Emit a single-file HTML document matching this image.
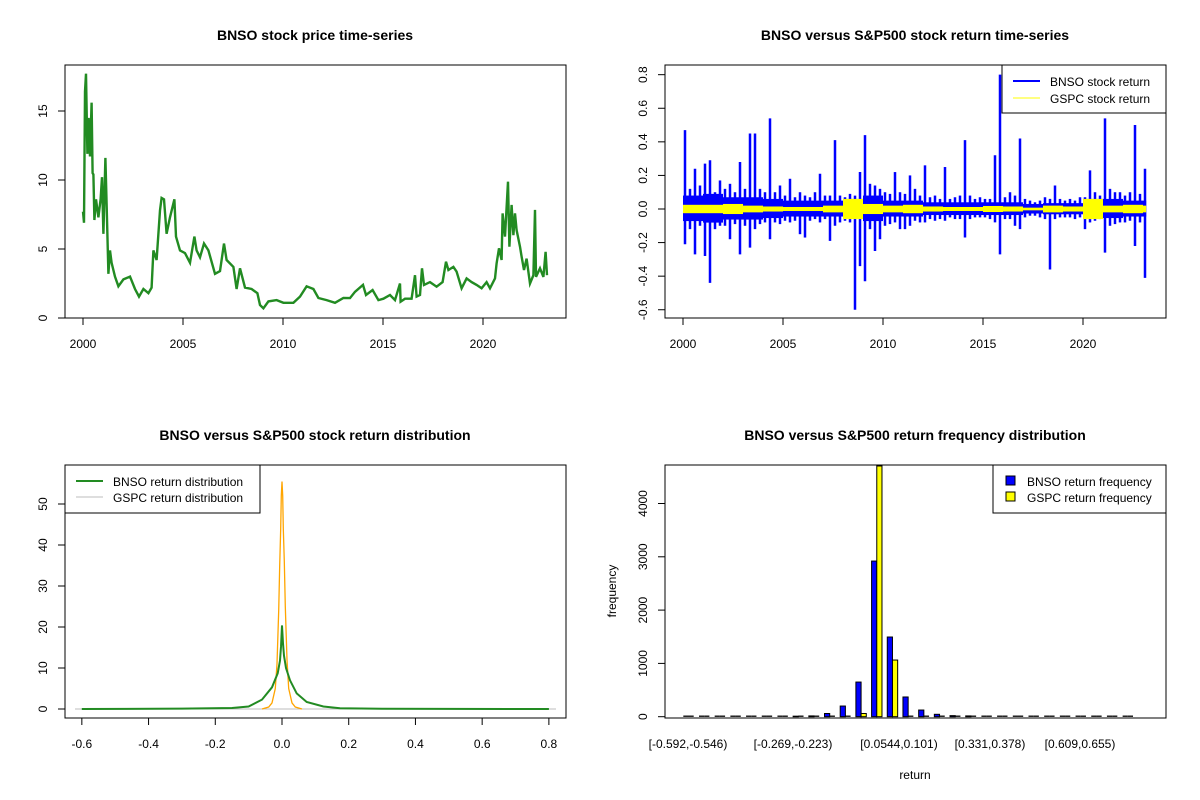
<!DOCTYPE html>
<html><head><meta charset="utf-8">
<style>
body{margin:0;background:#fff;}
svg{display:block;font-family:"Liberation Sans",Arial,sans-serif;}
text{font-size:12px;fill:#000;}
.t{font-size:14px;font-weight:bold;}
</style></head>
<body>
<svg id="s" width="1200" height="800" viewBox="0 0 1200 800" xmlns="http://www.w3.org/2000/svg"></svg>
<script>
// ---------- data ----------
const priceYears=[0,0.05,0.1,0.15,0.22,0.28,0.35,0.43,0.48,0.52,0.57,0.65,0.77,0.88,0.95,1.02,1.12,1.18,1.27,1.35,1.43,1.6,1.77,2.02,2.35,2.6,2.8,3.02,3.27,3.43,3.52,3.68,3.85,3.93,4.05,4.18,4.35,4.57,4.65,4.85,5.1,5.35,5.57,5.68,5.85,6.05,6.27,6.6,6.85,7.05,7.18,7.52,7.68,7.85,8.1,8.43,8.72,8.85,9.02,9.27,9.68,10.02,10.52,10.85,11.18,11.52,11.77,12.18,12.6,13.02,13.35,13.6,14.0,14.15,14.48,14.77,15.02,15.35,15.6,15.85,15.88,16.1,16.43,16.6,16.68,16.85,16.95,17.05,17.35,17.68,17.98,18.15,18.27,18.52,18.68,18.93,19.18,19.43,19.68,19.93,20.18,20.35,20.6,20.68,20.8,20.93,20.98,21.1,21.25,21.32,21.43,21.52,21.6,21.68,21.85,21.93,22.05,22.18,22.35,22.52,22.6,22.65,22.85,23.02,23.13,23.2];
const priceVals=[7.7,6.9,16.4,17.7,11.9,14.5,11.7,15.6,10.5,10.4,7.1,8.6,7.3,8.6,10.2,6.1,11.6,8.3,3.2,4.9,4.0,3.0,2.3,2.8,3.0,2.1,1.55,2.1,1.8,2.2,4.9,4.2,7.8,8.7,8.6,6.1,7.3,8.6,5.9,4.9,4.7,4.0,5.9,4.9,4.4,5.4,4.9,3.2,3.4,5.4,4.2,3.7,2.1,3.6,2.2,2.1,1.8,0.94,0.7,1.2,1.3,1.1,1.1,1.55,2.3,2.1,1.45,1.3,1.1,1.45,1.44,1.9,2.4,1.67,2.03,1.3,1.4,1.67,1.3,2.5,1.18,1.4,1.4,3.1,1.55,1.67,3.6,2.4,2.6,2.27,2.6,4.08,3.48,3.7,3.36,2.15,2.87,2.6,2.4,2.15,2.6,2.15,2.87,3.96,5.05,4.2,7.58,5.9,9.88,5.17,8.19,6.0,7.58,6.37,5.17,4.45,3.48,4.3,2.5,3.1,7.83,2.98,3.6,2.98,4.8,3.1];
const retHigh=[0.47,0.12,0.24,0.14,0.27,0.29,0.10,0.17,0.12,0.15,0.10,0.28,0.12,0.45,0.45,0.12,0.10,0.54,0.10,0.14,0.08,0.18,0.07,0.10,0.08,0.07,0.10,0.21,0.08,0.08,0.41,0.08,0.07,0.09,0.08,0.22,0.44,0.15,0.14,0.12,0.10,0.09,0.22,0.10,0.09,0.20,0.12,0.08,0.26,0.07,0.08,0.06,0.25,0.06,0.07,0.08,0.41,0.08,0.06,0.07,0.06,0.06,0.32,0.80,0.07,0.10,0.08,0.42,0.06,0.05,0.04,0.05,0.07,0.06,0.14,0.06,0.05,0.06,0.05,0.07,0.07,0.23,0.10,0.08,0.54,0.12,0.10,0.10,0.08,0.10,0.50,0.09,0.24];
const retLow=[-0.21,-0.12,-0.27,-0.10,-0.28,-0.44,-0.12,-0.10,-0.10,-0.18,-0.09,-0.27,-0.10,-0.23,-0.12,-0.09,-0.08,-0.18,-0.08,-0.09,-0.07,-0.08,-0.07,-0.15,-0.17,-0.07,-0.06,-0.08,-0.06,-0.19,-0.10,-0.08,-0.07,-0.08,-0.60,-0.34,-0.43,-0.12,-0.25,-0.18,-0.10,-0.09,-0.08,-0.12,-0.12,-0.10,-0.07,-0.08,-0.08,-0.06,-0.07,-0.06,-0.07,-0.05,-0.06,-0.06,-0.17,-0.06,-0.05,-0.05,-0.05,-0.06,-0.08,-0.27,-0.06,-0.06,-0.10,-0.12,-0.05,-0.04,-0.04,-0.05,-0.06,-0.36,-0.06,-0.05,-0.05,-0.05,-0.06,-0.05,-0.12,-0.08,-0.07,-0.06,-0.26,-0.10,-0.09,-0.08,-0.08,-0.07,-0.22,-0.08,-0.41];
const bandAmp=[0.08,0.09,0.07,0.07,0.06,0.05,0.05,0.05,0.06,0.08,0.05,0.05,0.04,0.04,0.04,0.04,0.04,0.03,0.035,0.035,0.06,0.06,0.05,0.05];
const gspcAmp=[0.025,0.025,0.03,0.02,0.015,0.012,0.012,0.02,0.06,0.03,0.02,0.025,0.015,0.012,0.012,0.018,0.015,0.008,0.02,0.015,0.06,0.02,0.025,0.02];
const gspcDensX=[-0.06,-0.04,-0.03,-0.02,-0.015,-0.01,-0.007,-0.004,-0.002,0,0.002,0.004,0.007,0.01,0.015,0.02,0.03,0.04,0.06];
const gspcDensY=[0,0.5,1.5,5,11,24,35,44,52,55.5,52,44,36,25,12,5,1.5,0.5,0];
const bnsoDensX=[-0.6,-0.3,-0.15,-0.1,-0.06,-0.03,-0.013,-0.006,-0.003,0,0.003,0.006,0.012,0.024,0.044,0.074,0.124,0.174,0.3,0.8];
const bnsoDensY=[0,0.1,0.25,0.6,2.3,5.3,8.7,11.8,15.2,20.4,16,13,10,7,3.8,1.7,0.6,0.2,0.05,0];
const bnsoFreq=[0,0,0,0,0,0,0,10,15,60,200,650,2920,1495,370,125,45,20,15,2,1,0,0,0,0,0,0,0,0];
const gspcFreq=[0,0,0,0,0,0,0,0,0,5,8,60,5400,1063,6,2,0,0,0,0,0,0,0,0,0,0,0,0,0];
const binLabels=["[-0.592,-0.546)","[-0.269,-0.223)","[0.0544,0.101)","[0.331,0.378)","[0.609,0.655)"];
const binLabelX=[688,793,899,990,1080];

// ---------- helpers ----------
const S=document.getElementById('s');const NS='http://www.w3.org/2000/svg';
function el(tag,a,txt){const e=document.createElementNS(NS,tag);for(const k in a)e.setAttribute(k,a[k]);if(txt!==undefined)e.textContent=txt;S.appendChild(e);return e;}
function frame(x0,y0,x1,y1,name){const r=el('rect',{x:x0,y:y0,width:x1-x0,height:y1-y0,fill:'none',stroke:'#000','stroke-width':1});

}
function xtick(x,yb,lab,name){const l=el('line',{x1:x,x2:x,y1:yb,y2:yb+7,stroke:'#000'});


const t=el('text',{x:x,y:yb+30,'text-anchor':'middle'},lab);

}
function ytick(y,xl,lab,name){const l=el('line',{x1:xl-7,x2:xl,y1:y,y2:y,stroke:'#000'});


const t=el('text',{x:xl-18,y:y,'text-anchor':'middle',transform:`rotate(-90 ${xl-18} ${y})`},lab);

}
function title(x,y,s,name){const t=el('text',{x:x,y:y,'text-anchor':'middle',class:'t'},s);

}

// ---------- panel 1: price ----------
const px1=y=>83+20*y, py1=v=>318-13.8*v;
title(315,40,'BNSO stock price time-series','price-chart-title');
let d=priceYears.map((y,i)=>(i?'L':'M')+px1(y).toFixed(1)+' '+py1(priceVals[i]).toFixed(1)).join(' ');
let p=el('path',{d:d,fill:'none',stroke:'#228B22','stroke-width':2.4,'stroke-linejoin':'miter'});


frame(65,65,566,318,'price-plot-frame');
[2000,2005,2010,2015,2020].forEach(y=>xtick(px1(y-2000),318,String(y),'price-x'));
[0,5,10,15].forEach(v=>ytick(py1(v),65,String(v),'price-y'));

// ---------- panel 2: returns ----------
const px2=y=>683+20*y, py2=v=>209-167.9*v;
title(915,40,'BNSO versus S&P500 stock return time-series','return-chart-title');
bandAmp.forEach((a,i)=>{const w=(i===23)?3.2:20;const r=el('rect',{x:px2(i),y:py2(a),width:w,height:py2(-a*0.9)-py2(a),fill:'#0000FF'});

});
retHigh.forEach((h,i)=>{const x=px2(i*0.25)+2;const l=el('line',{x1:x,x2:x,y1:py2(h),y2:py2(retLow[i]),stroke:'#0000FF','stroke-width':2.5});

});
gspcAmp.forEach((a,i)=>{const w=(i===23)?3.2:20;const r=el('rect',{x:px2(i),y:py2(a),width:w,height:py2(-a)-py2(a),fill:'#FFFF00'});

});
frame(665,65,1166,318,'return-plot-frame');
[2000,2005,2010,2015,2020].forEach(y=>xtick(px2(y-2000),318,String(y),'return-x'));
[-0.6,-0.4,-0.2,0,0.2,0.4,0.6,0.8].forEach(v=>ytick(py2(v),665,v.toFixed(1),'return-y'));
el('rect',{x:1002,y:65,width:164,height:48,fill:'#fff',stroke:'#000'});
el('line',{x1:1013,x2:1040,y1:81,y2:81,stroke:'#0000FF','stroke-width':2});
el('text',{x:1050,y:86},'BNSO stock return');
el('line',{x1:1013,x2:1040,y1:98,y2:98,stroke:'#FFFF00','stroke-width':1});
el('text',{x:1050,y:103},'GSPC stock return');

// ---------- panel 3: density ----------
const px3=x=>282+333.6*x, py3=v=>709-4.1*v;
title(315,440,'BNSO versus S&P500 stock return distribution','density-chart-title');
el('line',{x1:75,x2:556,y1:py3(0),y2:py3(0),stroke:'#bebebe'});
d=gspcDensX.map((x,i)=>(i?'L':'M')+px3(x).toFixed(1)+' '+py3(gspcDensY[i]).toFixed(1)).join(' ');
p=el('path',{d:d,fill:'none',stroke:'#FFA500','stroke-width':1.3});


d=bnsoDensX.map((x,i)=>(i?'L':'M')+px3(x).toFixed(1)+' '+py3(bnsoDensY[i]).toFixed(1)).join(' ');
p=el('path',{d:d,fill:'none',stroke:'#228B22','stroke-width':2});


frame(65,465,566,718,'density-plot-frame');
[-0.6,-0.4,-0.2,0,0.2,0.4,0.6,0.8].forEach(v=>xtick(px3(v),718,v.toFixed(1),'density-x'));
[0,10,20,30,40,50].forEach(v=>ytick(py3(v),65,String(v),'density-y'));
el('rect',{x:65,y:465,width:195,height:48,fill:'#fff',stroke:'#000'});
el('line',{x1:76,x2:103,y1:481,y2:481,stroke:'#228B22','stroke-width':2});
el('text',{x:113,y:486},'BNSO return distribution');
el('line',{x1:76,x2:103,y1:497,y2:497,stroke:'#bebebe'});
el('text',{x:113,y:502},'GSPC return distribution');

// ---------- panel 4: histogram ----------
const gx=i=>683.3+15.69*i, py4=v=>716.7-0.0533*v, bw=5.2;
title(915,440,'BNSO versus S&P500 return frequency distribution','frequency-chart-title');
const clipTop=466;
function bar(x,v,fill,name){
  const y=Math.max(py4(v),clipTop);
  if(716.7-y<0.5){const l=el('line',{x1:x,x2:x+bw,y1:716.2,y2:716.2,stroke:'#000','stroke-width':1.3});
    
    return;}
  const r=el('rect',{x:x,y:y,width:bw,height:716.7-y,fill:fill,stroke:'#000','stroke-width':1});
  
  }
bnsoFreq.forEach((v,i)=>bar(gx(i),v,'#0000FF','bar-bnso-freq'));
gspcFreq.forEach((v,i)=>bar(gx(i)+bw,v,'#FFFF00','bar-gspc-freq'));
frame(665,465,1166,718,'frequency-plot-frame');
[0,1000,2000,3000,4000].forEach(v=>ytick(py4(v),665,String(v),'frequency-y'));
binLabels.forEach((s,i)=>{const t=el('text',{x:binLabelX[i],y:748,'text-anchor':'middle'},s);

});
el('text',{x:915,y:779,'text-anchor':'middle'},'return');
el('text',{x:616,y:591,'text-anchor':'middle',transform:'rotate(-90 616 591)'},'frequency');
el('rect',{x:993,y:465,width:173,height:48,fill:'#fff',stroke:'#000'});
el('rect',{x:1006,y:476,width:9,height:9,fill:'#0000FF',stroke:'#000'});
el('text',{x:1027,y:486},'BNSO return frequency');
el('rect',{x:1006,y:492,width:9,height:9,fill:'#FFFF00',stroke:'#000'});
el('text',{x:1027,y:502},'GSPC return frequency');
</script>
</body></html>
